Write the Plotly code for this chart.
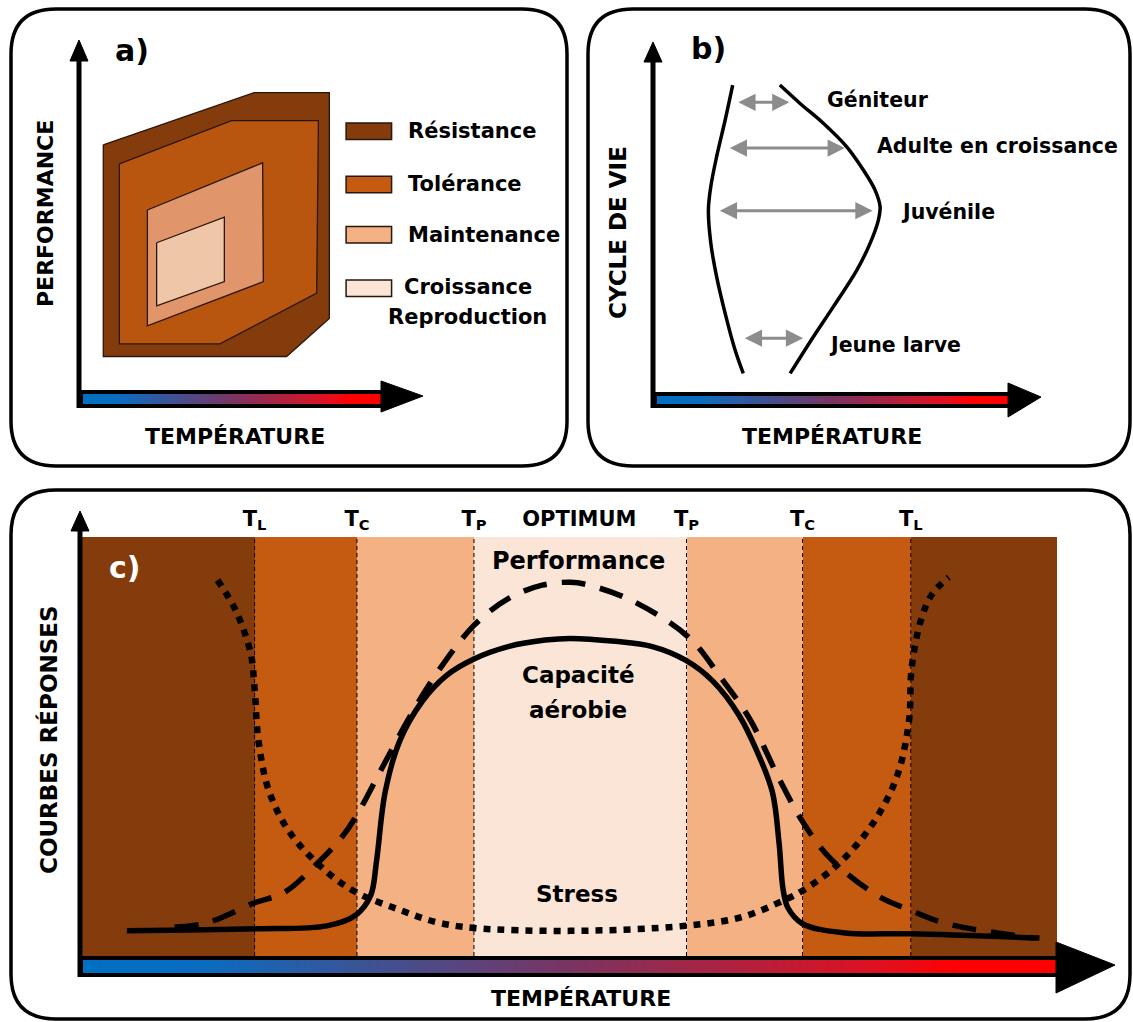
import numpy as np
import plotly.graph_objects as go

W, H = 1133, 1022
FONT = "DejaVu Sans, Roboto, sans-serif"
HEAVY = "DejaVu Sans, Roboto, sans-serif"

# ---------------- panel a : nested tolerance zones (temperature %, performance %)
zone_names = ["Résistance", "Tolérance", "Maintenance", "Croissance<br>Reproduction"]
zone_fill = ["#843C0C", "#B8560F", "#E0956A", "#F0C6A8"]
legend_fill = ["#843C0C", "#C55A11", "#F4B183", "#FBE5D6"]
resistance_t = [7.1, 51.2, 73.2, 73.2, 60.7, 7.1]
resistance_p = [70.6, 85.1, 85.1, 22.4, 11.8, 11.8]
tolerance_t = [11.8, 44.6, 70.0, 69.5, 41.2, 11.8]
tolerance_p = [65.3, 77.3, 77.3, 29.4, 15.3, 15.3]
maintenance_t = [20.0, 53.7, 53.9, 20.0]
maintenance_p = [52.5, 65.6, 32.6, 20.3]
croissance_t = [22.7, 42.5, 42.5, 22.7]
croissance_p = [43.4, 50.5, 32.6, 25.9]

# ---------------- panel b : thermal window along the life cycle
lower_t = [23.3, 21.1, 18.6, 16.9, 16.2, 16.9, 18.6, 21.1, 24.0, 26.4]
lower_stage = [87.2, 77.5, 67.3, 59.0, 52.5, 43.3, 34.0, 23.8, 13.6, 7.1]
upper_t = [37.1, 43.0, 49.8, 56.6, 61.5, 64.9, 66.4, 65.9, 63.5, 59.6, 52.7, 46.9, 40.1]
upper_stage = [87.2, 82.1, 76.6, 70.1, 63.6, 58.1, 53.4, 49.7, 43.3, 35.8, 25.6, 17.3, 7.1]
stages = ["Géniteur", "Adulte en croissance", "Juvénile", "Jeune larve"]
stage_level = [82.4, 69.7, 52.3, 16.9]
stage_tmin = [24.5, 22.0, 19.1, 26.4]
stage_tmax = [39.9, 56.1, 64.2, 43.9]
stage_label_t = [50.3, 64.8, 71.9, 50.9]
stage_label_y = [83.1, 70.3, 51.9, 15.0]

# ---------------- panel c : response curves along temperature
band_edges = [0, 17.7, 28.2, 40.2, 62.0, 73.9, 85.0, 100]
band_fill = ["#843C0C", "#C55A11", "#F4B183", "#FBE5D6", "#F4B183", "#C55A11", "#843C0C"]
threshold_labels = ["T<sub>L</sub>", "T<sub>C</sub>", "T<sub>P</sub>", "OPTIMUM",
                    "T<sub>P</sub>", "T<sub>C</sub>", "T<sub>L</sub>"]
threshold_pos = [17.7, 28.2, 40.2, 51.0, 62.0, 73.9, 85.0]

aerobic_t = [4.6, 17.7, 25.1, 28.1, 29.6, 30.2, 31.1, 32.6, 34.9, 37.4, 40.2, 43.8, 47.5,
             50.1, 54.7, 58.4, 61.9, 64.7, 67.4, 69.2, 70.8, 71.5, 71.9, 72.4, 73.9, 78.3,
             85.0, 98.2]
aerobic_r = [6.0, 6.5, 7.2, 9.8, 14.4, 22.5, 39.2, 51.4, 60.8, 67.0, 70.9, 73.9, 75.4,
             75.8, 75.1, 73.9, 70.6, 65.6, 57.4, 49.0, 39.2, 26.8, 16.0, 11.5, 7.7, 5.5,
             5.3, 4.3]
perf_t = [9.5, 12.8, 17.7, 20.7, 24.0, 26.7, 28.2, 30.8, 33.7, 36.3, 40.2, 43.8, 47.2, 50.1,
          52.0, 56.5, 62.2, 65.5, 68.5, 71.5, 73.9, 76.7, 81.6, 84.9, 88.7, 97.6]
perf_r = [6.9, 7.9, 12.7, 15.1, 21.8, 28.5, 33.7, 45.0, 57.4, 67.2, 78.9, 85.4, 88.5, 89.2,
          88.5, 84.7, 76.1, 66.5, 56.5, 42.3, 32.1, 23.4, 14.4, 11.0, 7.7, 4.3]
stress_t = [13.9, 15.8, 17.3, 17.7, 18.1, 19.2, 21.4, 25.1, 28.2, 32.6, 36.3, 40.2, 50.1,
            61.9, 67.7, 71.9, 73.9, 77.5, 80.9, 83.5, 84.8, 85.1, 86.1, 87.2, 88.9]
stress_r = [89.7, 82.3, 72.2, 63.9, 51.4, 39.2, 29.2, 20.1, 15.1, 11.0, 8.1, 6.7, 6.0,
            7.2, 9.3, 13.2, 15.6, 21.8, 30.9, 42.3, 55.7, 68.9, 80.6, 86.4, 90.4]

GRADIENT = [[0, "#0070C0"], [0.12, "#0A6CC0"], [0.5, "#7A3462"],
            [0.82, "#E01020"], [0.9, "#FF0000"], [1, "#FF0000"]]


def dom_x(p0, p1):
    return [p0 / W, p1 / W]


def dom_y(top, bottom):
    return [1 - bottom / H, 1 - top / H]


def rounded(x0, y0, x1, y1, r):
    return (f"M {x0 + r},{y0} L {x1 - r},{y0} Q {x1},{y0} {x1},{y0 + r} "
            f"L {x1},{y1 - r} Q {x1},{y1} {x1 - r},{y1} L {x0 + r},{y1} "
            f"Q {x0},{y1} {x0},{y1 - r} L {x0},{y0 + r} Q {x0},{y0} {x0 + r},{y0} Z")


fig = go.Figure()

# panel a zones
for tx, py, col in zip([resistance_t, tolerance_t, maintenance_t, croissance_t],
                       [resistance_p, tolerance_p, maintenance_p, croissance_p], zone_fill):
    fig.add_trace(go.Scatter(x=tx + tx[:1], y=py + py[:1], fill="toself", fillcolor=col,
                             mode="lines", line=dict(color="#2A160A", width=1.3),
                             xaxis="x2", yaxis="y2", hoverinfo="skip", showlegend=False))

# panel b limits
for tx, sy in [(lower_t, lower_stage), (upper_t, upper_stage)]:
    fig.add_trace(go.Scatter(x=tx, y=sy, mode="lines",
                             line=dict(color="black", width=3.5, shape="spline", smoothing=1),
                             xaxis="x3", yaxis="y3", hoverinfo="skip", showlegend=False))

# panel c bands
centers = [(a + b) / 2 for a, b in zip(band_edges[:-1], band_edges[1:])]
widths = [b - a for a, b in zip(band_edges[:-1], band_edges[1:])]
fig.add_trace(go.Bar(x=centers, y=[100] * len(centers), width=widths, marker=dict(
    color=band_fill, line=dict(width=0)), xaxis="x4", yaxis="y4", hoverinfo="skip",
    showlegend=False))
vx, vy = [], []
for e in band_edges[1:-1]:
    vx += [e, e, None]
    vy += [0, 100, None]
fig.add_trace(go.Scatter(x=vx, y=vy, mode="lines", line=dict(color="black", width=1, dash="4px,3px"),
                         xaxis="x4", yaxis="y4", hoverinfo="skip", showlegend=False))
fig.add_trace(go.Scatter(x=stress_t, y=stress_r, mode="lines",
                         line=dict(color="black", width=6.5, dash="7px,7px", shape="spline", smoothing=1),
                         xaxis="x4", yaxis="y4", hoverinfo="skip", showlegend=False))
fig.add_trace(go.Scatter(x=perf_t, y=perf_r, mode="lines",
                         line=dict(color="black", width=5.5, dash="24px,15px", shape="spline", smoothing=1),
                         xaxis="x4", yaxis="y4", hoverinfo="skip", showlegend=False))
fig.add_trace(go.Scatter(x=aerobic_t, y=aerobic_r, mode="lines",
                         line=dict(color="black", width=5.5, shape="spline", smoothing=1),
                         xaxis="x4", yaxis="y4", hoverinfo="skip", showlegend=False))

# temperature gradient bars
ramp = np.linspace(0, 1, 256)
for k in ("5", "6", "7"):
    fig.add_trace(go.Heatmap(z=[ramp], colorscale=GRADIENT, showscale=False, hoverinfo="skip",
                             xaxis="x" + k, yaxis="y" + k))

hidden = dict(visible=False, fixedrange=True)
fig.update_layout(
    width=W, height=H, margin=dict(l=0, r=0, t=0, b=0),
    paper_bgcolor="white", plot_bgcolor="rgba(0,0,0,0)", showlegend=False, bargap=0,
    xaxis=dict(domain=[0, 1], range=[0, W], **hidden),
    yaxis=dict(domain=[0, 1], range=[H, 0], **hidden),
    xaxis2=dict(domain=dom_x(79, 79 + 3.42 * 140), range=[0, 140], anchor="y2", **hidden),
    yaxis2=dict(domain=dom_y(39, 399), range=[0, 100], anchor="x2", **hidden),
    xaxis3=dict(domain=dom_x(653, 995), range=[0, 100], anchor="y3", **hidden),
    yaxis3=dict(domain=dom_y(39, 399), range=[0, 100], anchor="x3", **hidden),
    xaxis4=dict(domain=dom_x(82, 1057), range=[0, 100], anchor="y4", side="top",
                showgrid=False, zeroline=False, showline=False, ticks="",
                tickmode="array", tickvals=threshold_pos, ticktext=threshold_labels,
                tickfont=dict(family=FONT, size=21, color="black", weight="bold"),
                ticklabelstandoff=6, fixedrange=True),
    yaxis4=dict(domain=dom_y(537, 956), range=[0, 100], anchor="x4", **hidden),
    xaxis5=dict(domain=dom_x(83, 382), anchor="y5", **hidden),
    yaxis5=dict(domain=dom_y(394, 404), anchor="x5", **hidden),
    xaxis6=dict(domain=dom_x(657, 1009), anchor="y6", **hidden),
    yaxis6=dict(domain=dom_y(396, 404), anchor="x6", **hidden),
    xaxis7=dict(domain=dom_x(83, 1057), anchor="y7", **hidden),
    yaxis7=dict(domain=dom_y(960, 973), anchor="x7", **hidden),
)

shapes = []
# panel frames
for x0, y0, x1, y1 in [(11, 9, 567, 466), (588, 9, 1130, 466), (11, 490, 1130, 1019)]:
    shapes.append(dict(type="path", path=rounded(x0, y0, x1, y1, 45), xref="x", yref="y",
                       line=dict(color="black", width=3.5), fillcolor="rgba(0,0,0,0)", layer="below"))
# black casings of the temperature bars
for x0, y0, x1, y1 in [(77, 390, 382, 408), (651, 392, 1009, 408), (78, 955, 1057, 977)]:
    shapes.append(dict(type="rect", x0=x0, y0=y0, x1=x1, y1=y1, xref="x", yref="y",
                       line=dict(width=0), fillcolor="black", layer="below"))
# vertical axes
for x, ytop, ybot in [(79, 58, 408), (653, 60, 408), (80, 529, 977)]:
    shapes.append(dict(type="line", x0=x, x1=x, y0=ybot, y1=ytop, xref="x", yref="y",
                       line=dict(color="black", width=5), layer="above"))
# arrow heads
heads = [
    "M 70,61 L 79,40 L 88,61 Z", "M 644,62 L 653,42 L 662,62 Z", "M 71,531 L 80,511 L 89,531 Z",
    "M 381,381 L 423,396 L 381,412 Z", "M 1008,383 L 1041,397 L 1008,417 Z",
    "M 1056,942 L 1115,965 L 1056,993 Z",
]
for p in heads:
    shapes.append(dict(type="path", path=p, xref="x", yref="y", fillcolor="black",
                       line=dict(color="black", width=1), layer="above"))
# legend swatches of panel a
swatch_mid = [74.4, 59.6, 45.6, 30.75]
for yc, col in zip(swatch_mid, legend_fill):
    shapes.append(dict(type="rect", x0=78.1, x1=91.4, y0=yc - 2.3, y1=yc + 2.3, xref="x2", yref="y2",
                       fillcolor=col, line=dict(color="#2A160A", width=1.5), layer="above"))
fig.update_layout(shapes=shapes)

ann = []


def label(text, x, y, size, xref="x", yref="y", angle=0, color="black", family=FONT, xanchor="center"):
    ann.append(dict(text=text, x=x, y=y, xref=xref, yref=yref, showarrow=False, textangle=angle,
                    xanchor=xanchor, yanchor="middle",
                    font=dict(family=family, size=size, color=color, weight="bold")))


label("a)", 132, 50, 30, family=HEAVY)
label("b)", 708, 48, 30, family=HEAVY)
label("c)", 125, 567, 30, family=HEAVY, color="white")
label("PERFORMANCE", 45, 214, 22, angle=-90)
label("CYCLE DE VIE", 618, 233, 23, angle=-90)
label("COURBES RÉPONSES", 48, 740, 23, angle=-90)
label("TEMPÉRATURE", 235, 436, 22)
label("TEMPÉRATURE", 832, 436, 22)
label("TEMPÉRATURE", 581, 998, 22)

# panel a legend text
for name, yc in zip(zone_names[:3], swatch_mid[:3]):
    label(name, 95.6, yc, 21, xref="x2", yref="y2", xanchor="left")
label("Croissance", 113.7, 31.2, 21, xref="x2", yref="y2")
label("Reproduction", 113.7, 22.9, 21, xref="x2", yref="y2")

# panel b thermal ranges (double-headed arrows) and stage labels
for name, lvl, t0, t1, lx, ly in zip(stages, stage_level, stage_tmin, stage_tmax,
                                      stage_label_t, stage_label_y):
    ann.append(dict(x=t1, y=lvl, ax=t0, ay=lvl, xref="x3", yref="y3", axref="x3", ayref="y3",
                    text="", showarrow=True, arrowside="end+start", arrowhead=2, arrowsize=1.15,
                    arrowwidth=3, arrowcolor="#8C8C8C"))
    label(name, lx, ly, 20.5, xref="x3", yref="y3", xanchor="left")

# panel c curve names
label("Performance", 50.9, 94.3, 24, xref="x4", yref="y4")
label("Capacité", 50.9, 67.0, 23, xref="x4", yref="y4")
label("aérobie", 50.9, 58.6, 23, xref="x4", yref="y4")
label("Stress", 50.8, 14.8, 23, xref="x4", yref="y4")

fig.update_layout(annotations=ann)
fig.write_html("out.html")
